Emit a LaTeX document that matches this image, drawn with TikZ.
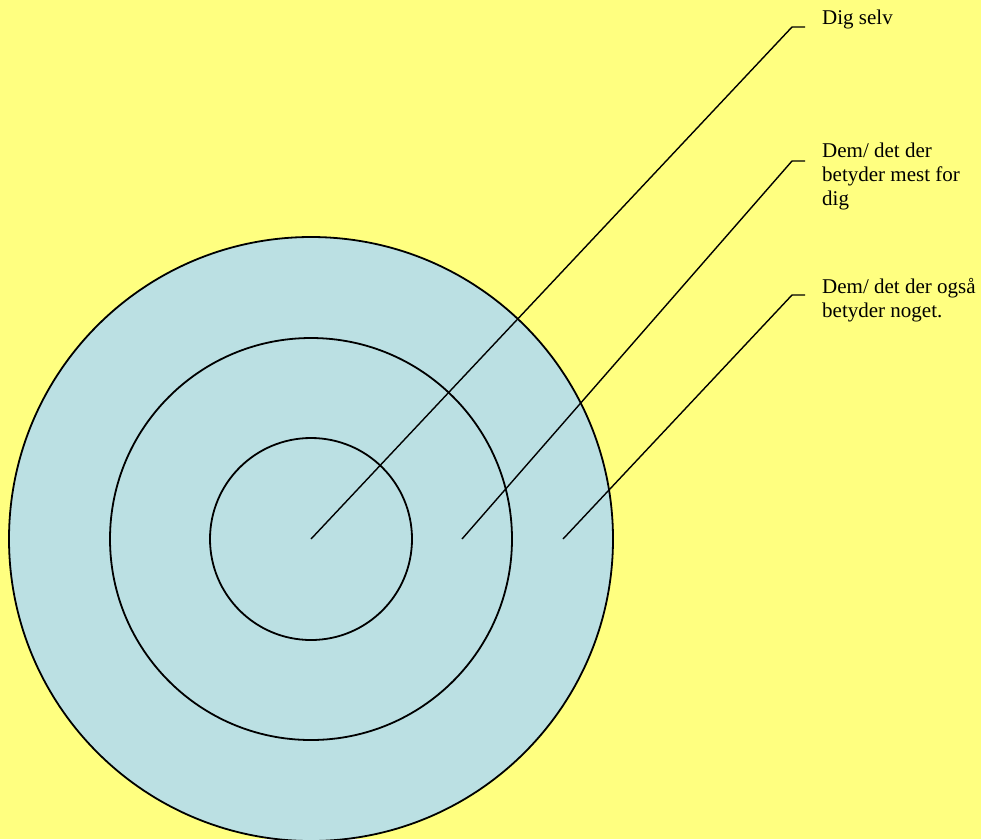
\documentclass[tikz,border=0pt]{standalone}
\usepackage{fontspec}
\setmainfont{Liberation Serif}
\usetikzlibrary{positioning}
\definecolor{bgyellow}{RGB}{255,255,128}
\definecolor{ringblue}{RGB}{187,224,227}

\begin{document}
\begin{tikzpicture}[x=1pt, y=-1pt,
      ring/.style={draw, circle, line width=1.8pt, inner sep=0pt},
      leader/.style={line width=1.4pt},
      lbl/.style={anchor=base west, inner sep=0pt, align=left,
                  font=\fontsize{21}{24}\selectfont},
    ]
    \fill[bgyellow] (0,0) rectangle (981,839);
    \useasboundingbox (0,0) rectangle (981,839);

    % rings
    \node[ring, fill=ringblue, minimum size=604pt] (outer) at (311,539) {};
    \node[ring, minimum size=402pt] (middle) at (outer.center) {};
    \node[ring, minimum size=202pt] (inner) at (outer.center) {};

    % labels (base = last line)
    \node[lbl] (self) at (822,24) {Dig selv};
    \node[lbl] (most) at (822,205) {Dem/ det der\\betyder mest for\\dig};
    \node[lbl] (also) at (822,317) {Dem/ det der også\\betyder noget.};

    % leader lines
    \coordinate (p1) at (outer.center);
    \coordinate (p2) at (462,539);
    \coordinate (p3) at (563,539);
    \coordinate (e1) at (805,27);
    \coordinate (e2) at (805,161);
    \coordinate (e3) at (805,295);

    \draw[leader] (p1) -- (792,27) -- (e1);
    \draw[leader] (p2) -- (792,161) -- (e2);
    \draw[leader] (p3) -- (792,295) -- (e3);
  \end{tikzpicture}
\end{document}
